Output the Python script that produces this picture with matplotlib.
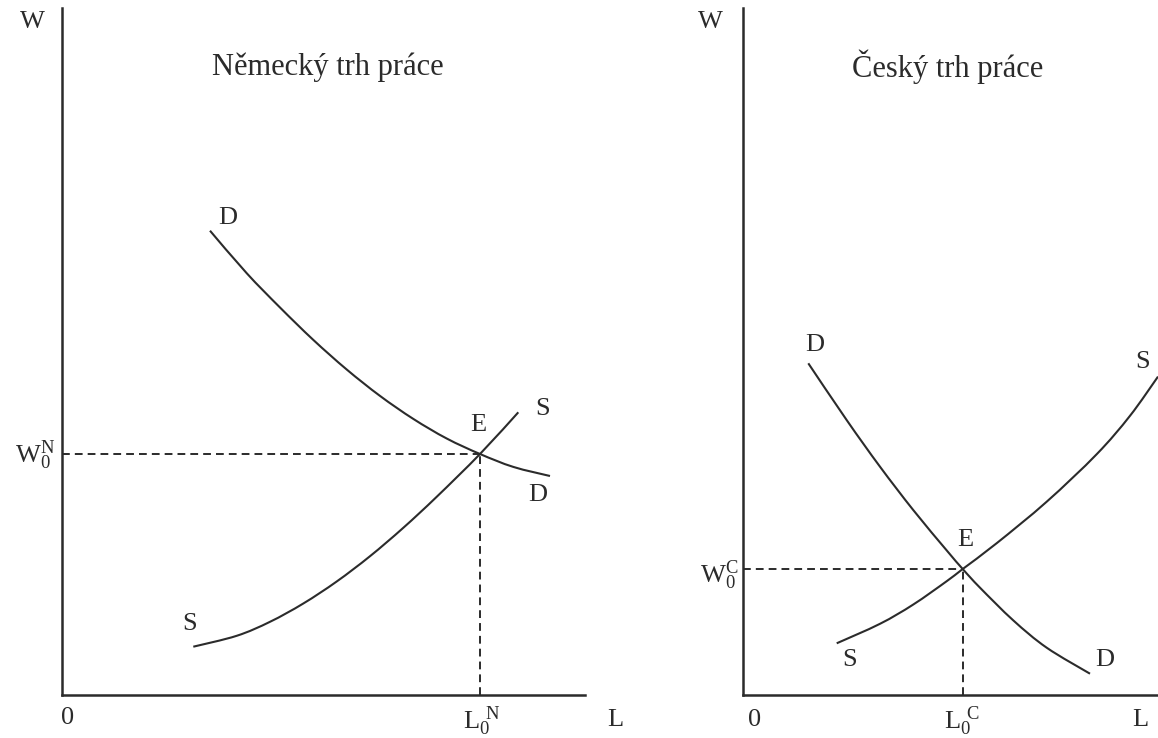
import matplotlib
matplotlib.use("Agg")
import matplotlib.pyplot as plt
from matplotlib.path import Path
from matplotlib.patches import PathPatch

plt.rcParams['font.family'] = ['Liberation Serif', 'DejaVu Serif']
plt.rcParams['mathtext.fontset'] = 'custom'
plt.rcParams['mathtext.rm'] = 'Liberation Serif'

# Německý trh práce (L, W)
d_n_L = [14.8, 18.47, 21.8, 25.13, 28.47, 31.8, 35.13, 38.47, 41.8, 45.13, 48.8]
d_n_W = [46.43, 42.18, 38.75, 35.51, 32.55, 29.91, 27.61, 25.65, 24.1, 22.81, 21.9]
s_n_L = [13.13, 17.47, 20.8, 24.13, 27.47, 30.8, 34.13, 37.47, 41.8, 45.63]
s_n_W = [4.83, 5.92, 7.32, 9.15, 11.35, 13.88, 16.72, 19.82, 24.1, 28.27]
e_n = (41.8, 24.1)

# Český trh práce
d_c_L = [6.53, 10.37, 13.7, 17.03, 20.37, 21.97, 23.7, 27.03, 30.37, 34.7]
d_c_W = [33.17, 27.49, 22.83, 18.49, 14.46, 12.6, 10.73, 7.46, 4.73, 2.13]
s_c_L = [9.37, 13.7, 17.03, 20.37, 21.97, 25.37, 30.37, 35.37, 38.7, 41.5]
s_c_W = [5.17, 7.12, 9.05, 11.38, 12.6, 15.18, 19.33, 24.08, 27.92, 31.84]
e_c = (21.97, 12.6)

W_fig, H_fig = 1158, 738
fig = plt.figure(figsize=(W_fig / 100, H_fig / 100), dpi=100)
fig.patch.set_facecolor('white')

col = '#2b2b2b'
fs = 19
fs_title = 22


def smooth_curve(ax, xs, ys):
    # smooth line through the points (Catmull-Rom as cubic Bezier segments)
    pts = list(zip(xs, ys))
    verts = [pts[0]]
    codes = [Path.MOVETO]
    n = len(pts)
    for i in range(n - 1):
        p0 = pts[i - 1] if i > 0 else pts[i]
        p1 = pts[i]
        p2 = pts[i + 1]
        p3 = pts[i + 2] if i + 2 < n else pts[i + 1]
        c1 = (p1[0] + (p2[0] - p0[0]) / 6, p1[1] + (p2[1] - p0[1]) / 6)
        c2 = (p2[0] - (p3[0] - p1[0]) / 6, p2[1] - (p3[1] - p1[1]) / 6)
        verts += [c1, c2, p2]
        codes += [Path.CURVE4] * 3
    ax.add_patch(PathPatch(Path(verts, codes), fill=False, edgecolor=col,
                           lw=1.5, capstyle='butt'))


def panel(x0, x1, title, dL, dW, sL, sW, e, sup, labels):
    ax = fig.add_axes([x0 / W_fig, (H_fig - 695) / H_fig,
                       (x1 - x0) / W_fig, (695 - 8) / H_fig])
    ax.set_xlim(0, (x1 - x0) / 10)
    ax.set_ylim(0, 68.7)
    for s in ['top', 'right']:
        ax.spines[s].set_visible(False)
    for s in ['left', 'bottom']:
        ax.spines[s].set_linewidth(1.8)
        ax.spines[s].set_color(col)
    ax.set_xticks([])
    ax.set_yticks([])
    ax.patch.set_alpha(0)

    smooth_curve(ax, dL, dW)
    smooth_curve(ax, sL, sW)
    ax.plot([0, e[0]], [e[1], e[1]], color=col, lw=1.4, ls=(0, (4, 2.6)))
    ax.plot([e[0], e[0]], [0, e[1]], color=col, lw=1.4, ls=(0, (4, 2.6)))

    kw = dict(color=col, fontsize=fs, ha='center', va='center', clip_on=False)
    ax.text(labels['title'][0], labels['title'][1], title,
            **{**kw, 'fontsize': fs_title})
    ax.text(labels['W'][0], labels['W'][1], 'W', **kw)
    ax.text(labels['0'][0], labels['0'][1], '0', **kw)
    ax.text(labels['L'][0], labels['L'][1], 'L', **kw)
    ax.text(labels['L0'][0], labels['L0'][1], r'$\mathregular{L_0^{\ %s}}$' % sup, **kw)
    ax.text(labels['W0'][0], labels['W0'][1], r'$\mathregular{W_0^{%s}}$' % sup, **kw)
    for key in ['D1', 'D2']:
        ax.text(labels[key][0], labels[key][1], 'D', **kw)
    for key in ['S1', 'S2']:
        ax.text(labels[key][0], labels[key][1], 'S', **kw)
    ax.text(labels['E'][0], labels['E'][1], 'E', **kw)
    return ax


panel(62, 585, 'Německý trh práce', d_n_L, d_n_W, s_n_L, s_n_W, e_n, 'N',
      {'title': (26.6, 62.8), 'W': (-3.0, 67.3), '0': (0.6, -2.3),
       'L': (55.3, -2.5), 'L0': (42.0, -2.6), 'W0': (-2.7, 24.0),
       'D1': (16.6, 47.7), 'D2': (47.6, 20.0), 'S1': (48.1, 28.6),
       'S2': (12.8, 7.1), 'E': (41.6, 27.0)})

panel(743, 1158, 'Český trh práce', d_c_L, d_c_W, s_c_L, s_c_W, e_c, 'C',
      {'title': (20.5, 62.8), 'W': (-3.3, 67.3), '0': (1.2, -2.5),
       'L': (39.7, -2.5), 'L0': (21.9, -2.6), 'W0': (-2.4, 12.0),
       'D1': (7.2, 35.0), 'D2': (36.2, 3.5), 'S1': (40.0, 33.3),
       'S2': (10.7, 3.5), 'E': (22.2, 15.5)})

fig.savefig('out.png', dpi=100, facecolor='white')
